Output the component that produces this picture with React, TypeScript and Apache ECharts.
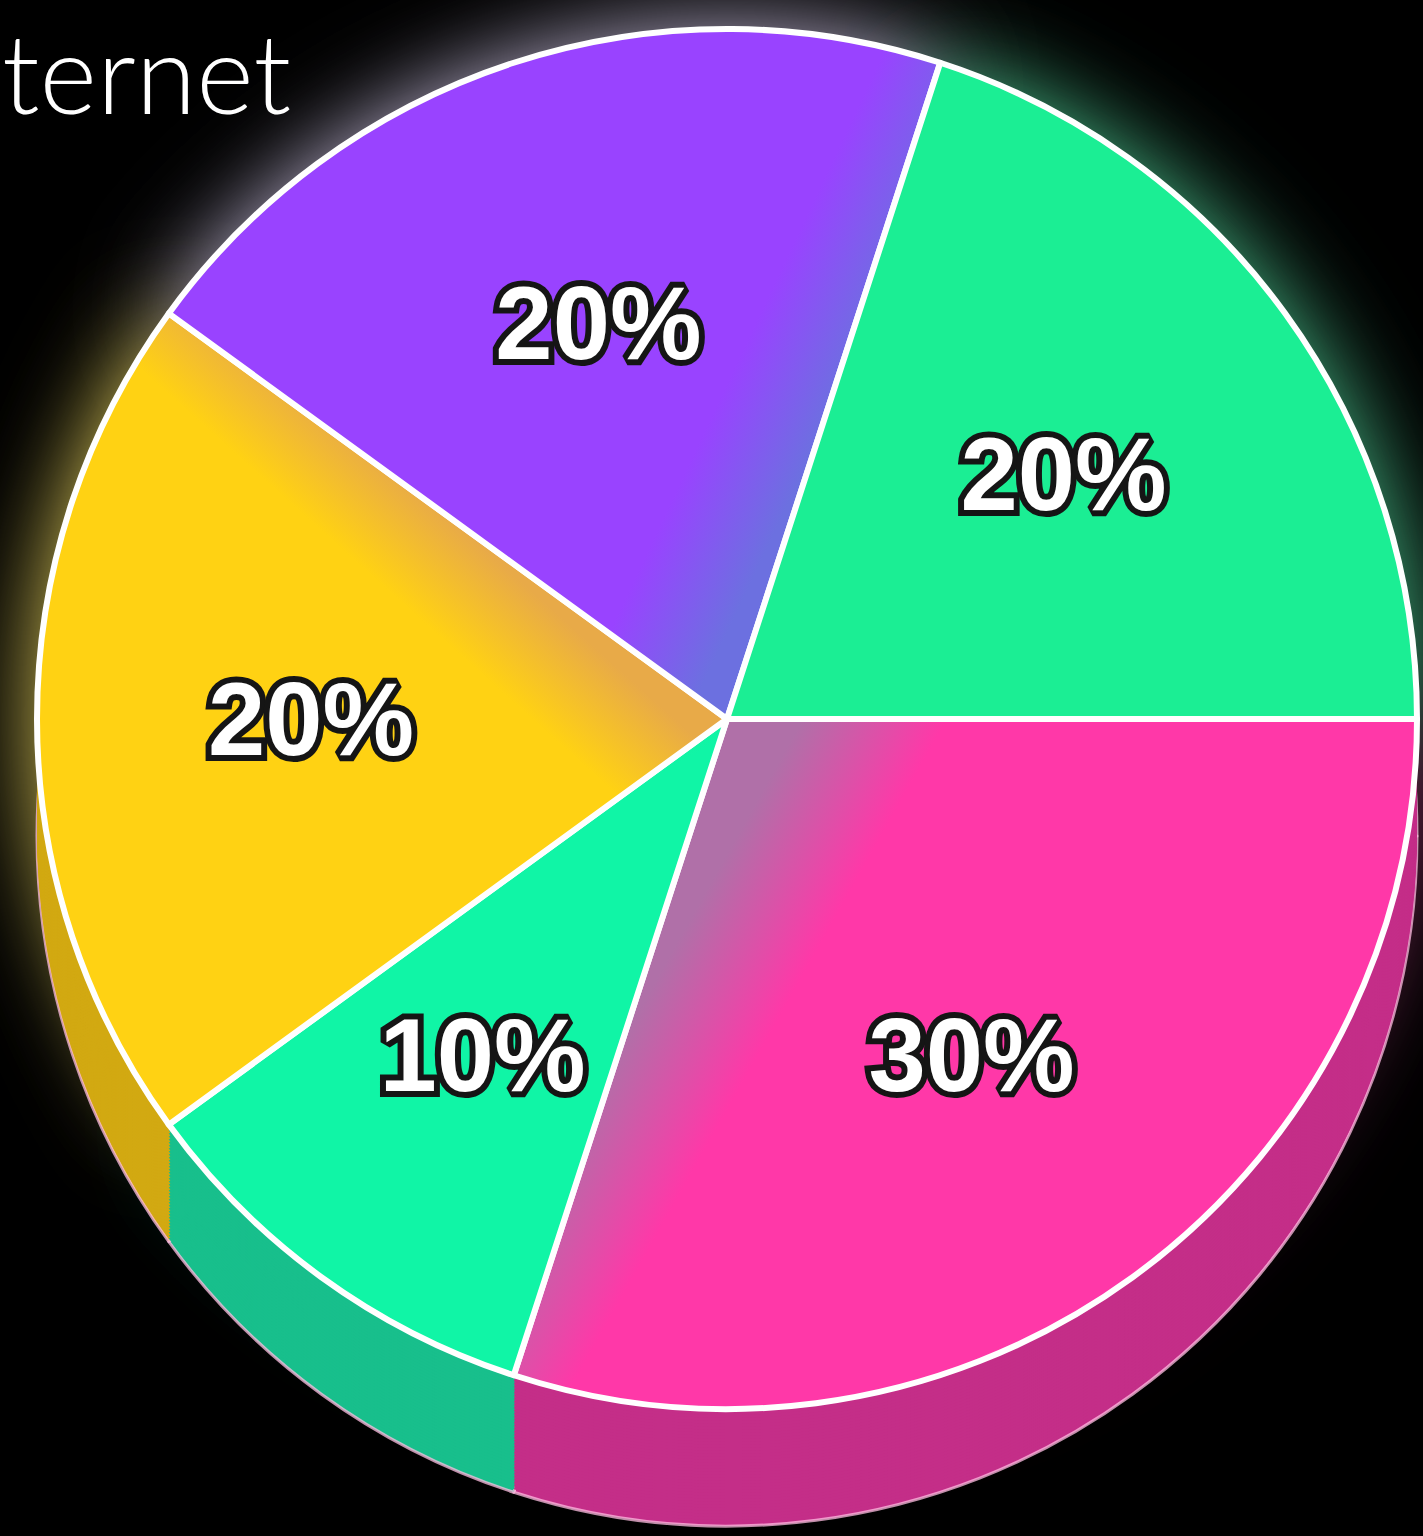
import React, { useEffect, useRef } from "react";
import * as echarts from "echarts";

// ---- data ----
const categories = ["Slice A", "Slice B", "Slice C", "Slice D", "Slice E"];
const values = [30, 10, 20, 20, 20];
const topColors = ["#FF38A8", "#10F5A6", "#FFD213", "#9943FF", "#1BEE94"];
const shadeColors = ["#B070A8", "#48E27E", "#E8AA48", "#6C70E0", "#1BEE94"];
const sideColors = ["#C42E88", "#18BF8C", "#D2A912", "#7030C0", "#15B870"];
const glowColors = [
  "rgba(255,90,180,0.6)",
  "rgba(70,220,160,0.65)",
  "rgba(240,220,100,0.95)",
  "rgba(230,220,255,0.85)",
  "rgba(90,235,170,0.85)",
];
const titleText = "ternet";

const CX = 727;
const CY = 719;
const R = 690;
const DEPTH = 117;

function topFill(i: number) {
  const base = topColors[i];
  const shade = shadeColors[i];
  if (i === 0) {
    return new echarts.graphic.LinearGradient(0.115, 0.477, 0.25, 0.535, [
      { offset: 0, color: shade },
      { offset: 1, color: base },
    ]);
  }
  if (i === 1) {
    return new echarts.graphic.LinearGradient(0.3, 0.0, 0.45, 0.3, [
      { offset: 0, color: shade },
      { offset: 1, color: base },
    ]);
  }
  if (i === 2) {
    return new echarts.graphic.LinearGradient(0.596, 0.25, 0.52, 0.35, [
      { offset: 0, color: shade },
      { offset: 1, color: base },
    ]);
  }
  if (i === 3) {
    return new echarts.graphic.LinearGradient(0.74, 0.475, 0.87, 0.53, [
      { offset: 0, color: base },
      { offset: 1, color: shade },
    ]);
  }
  return base;
}

export default function App() {
  const ref = useRef<HTMLDivElement>(null);
  useEffect(() => {
    document.body.style.margin = "0";
    document.body.style.background = "#000";
    const chart = echarts.init(ref.current!, null, { renderer: "svg" });

    const common = {
      type: "pie",
      startAngle: 0,
      clockwise: true,
      silent: true,
      avoidLabelOverlap: false,
      label: { show: false },
      labelLine: { show: false },
      emphasis: { disabled: true },
      animation: false,
    };

    const series: any[] = [];

    // glow layer
    series.push({
      ...common,
      center: [CX, CY],
      radius: R,
      data: values.map((v, i) => ({
        name: categories[i],
        value: v,
        itemStyle: {
          color: topColors[i],
          shadowBlur: 95,
          shadowColor: glowColors[i],
        },
      })),
    });

    // side (depth) layers
    for (let d = DEPTH; d > 0; d -= 3) {
      const bottom = d === DEPTH;
      series.push({
        ...common,
        center: [CX, CY + d],
        radius: R,
        data: values.map((v, i) => ({
          name: categories[i],
          value: v,
          itemStyle: {
            color: sideColors[i],
            borderColor: bottom ? "rgba(255,190,225,0.75)" : sideColors[i],
            borderWidth: bottom ? 3 : 0,
          },
        })),
      });
    }

    // top face
    series.push({
      ...common,
      center: [CX, CY],
      radius: R,
      data: values.map((v, i) => ({
        name: categories[i],
        value: v,
        itemStyle: {
          color: topFill(i),
          borderColor: "#FFFFFF",
          borderWidth: 6,
        },
      })),
    });

    // labels
    series.push({
      ...common,
      center: [CX, CY],
      radius: [136, R],
      itemStyle: { color: "rgba(0,0,0,0)" },
      label: {
        show: true,
        position: "inside",
        formatter: (p: any) => `${p.value}%`,
        color: "#FFFFFF",
        fontFamily: "Liberation Sans, Arial, sans-serif",
        fontWeight: "bold",
        fontSize: 103,
        textBorderColor: "#151515",
        textBorderWidth: 12,
      },
      data: values.map((v, i) => ({ name: categories[i], value: v })),
    });

    chart.setOption({
      animation: false,
      backgroundColor: "#000000",
      graphic: [
        {
          type: "text",
          left: 2,
          top: 16,
          z: 100,
          style: {
            text: titleText,
            fill: "#FFFFFF",
            font: "300 110px Lato, 'Open Sans', sans-serif",
          },
        },
      ],
      series,
    });
    return () => chart.dispose();
  }, []);
  return (
    <div
      ref={ref}
      style={{ position: "absolute", left: 0, top: 0, width: 1423, height: 1536 }}
    />
  );
}
